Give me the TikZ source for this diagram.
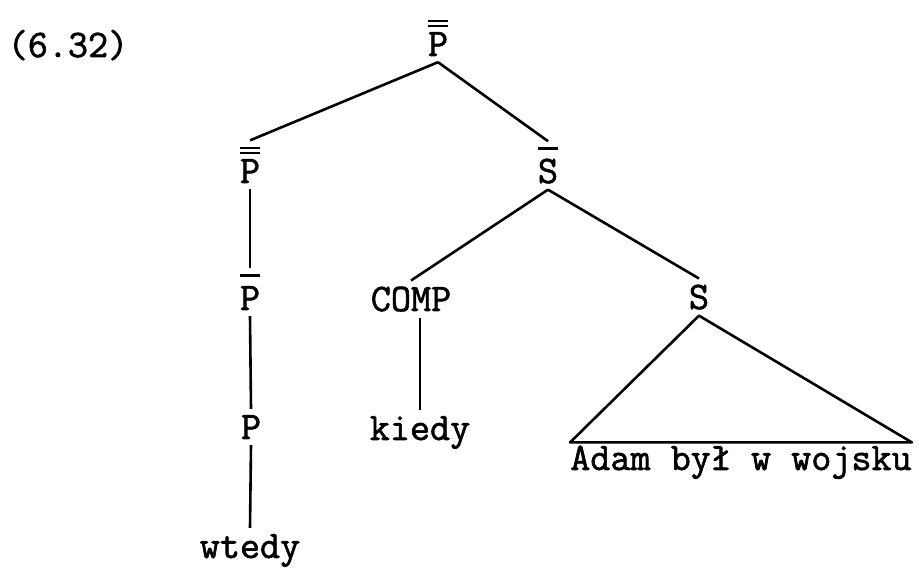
\documentclass[tikz,border=0pt]{standalone}
\usepackage{fontspec}
\setmonofont{Latin Modern Mono}[AutoFakeBold=1.6]
\newcommand{\onebar}[1]{\rlap{\raisebox{33pt}{\rule{20pt}{2.6pt}}}#1}
\newcommand{\twobar}[1]{\rlap{\raisebox{29pt}{\rule{20pt}{2.4pt}}}\rlap{\raisebox{34pt}{\rule{20pt}{2.4pt}}}#1}
\begin{document}
\begin{tikzpicture}[x=1pt, y=-1pt,
    lab/.style={font=\ttfamily\bfseries\fontsize{39}{44}\selectfont, inner sep=6pt, anchor=base},
    branch/.style={line width=2.6pt, line join=round}]
        \useasboundingbox (0,0) rectangle (922,569);
        % Numer przykladu
        \node[lab] (num) at (68,57) {(6.32)};

        % Wezly drzewa
        \node[lab] (top) at (438,56) {\twobar{P}};
        \node[lab] (pdbl) at (250,183) {\twobar{P}};
        \node[lab] (pbar) at (250,310) {\onebar{P}};
        \node[lab] (p) at (251,439) {P};
        \node[lab] (wtedy) at (250,558) {wtedy};
        \node[lab] (sbar) at (548,183) {\onebar{S}};
        \node[lab] (comp) at (411,311) {COMP};
        \node[lab] (kiedy) at (420,440) {kiedy};
        \node[lab] (s) at (699,309) {S};
        \node[lab, inner xsep=0pt, inner ysep=3pt] (adam) at (741,470) {Adam był w wojsku};

        % Galezie
        \draw[branch] (top.south) -- (pdbl.north);
        \draw[branch] (top.south) -- (sbar.north);
        \draw[branch] (pdbl.south) -- (pbar.north);
        \draw[branch] (pbar.south) -- (p.north);
        \draw[branch] (p.south) -- (wtedy.north);
        \draw[branch] (sbar.south) -- (comp.north);
        \draw[branch] (sbar.south) -- (s.north);
        \draw[branch] (kiedy.north |- comp.south) -- (kiedy.north);

        % Trojkat
        \draw[branch] (s.south) -- (adam.north west) -- (adam.north east) -- cycle;
    \end{tikzpicture}
\end{document}
